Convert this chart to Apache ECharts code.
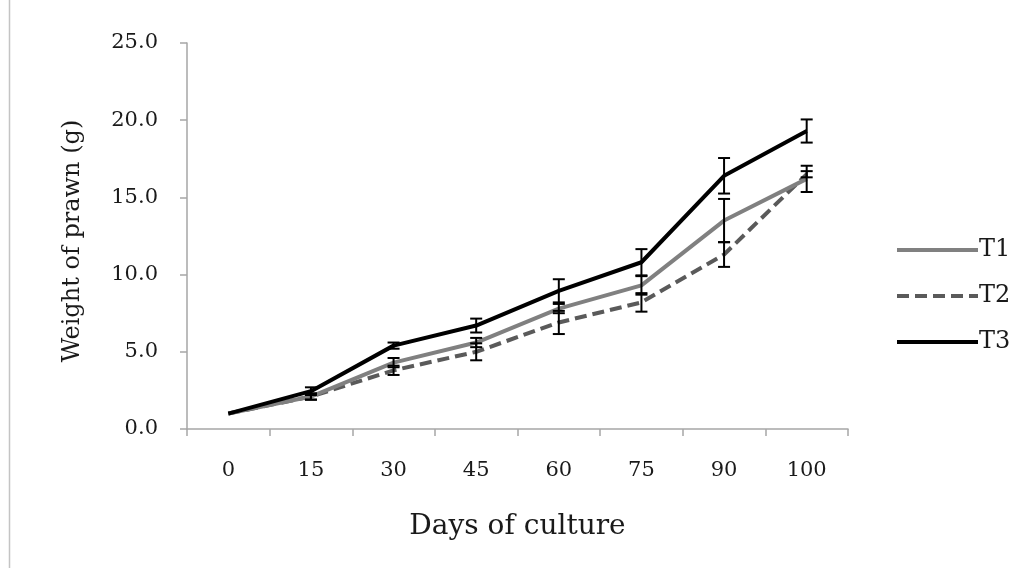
<!DOCTYPE html>
<html>
<head>
<meta charset="utf-8">
<script src="https://cdn.jsdelivr.net/npm/echarts@6/dist/echarts.min.js"></script>
<style>
html,body{margin:0;padding:0;background:#fff;}
#chart{width:1016px;height:568px;}
</style>
</head>
<body>
<div id="chart"></div>
<script>
var categories = ['0', '15', '30', '45', '60', '75', '90', '100'];
var t1 = [1.0, 2.1, 4.3, 5.6, 7.8, 9.3, 13.5, 16.2];
var t2 = [1.0, 2.1, 3.8, 5.0, 6.9, 8.2, 11.3, 16.5];
var t3 = [1.0, 2.45, 5.4, 6.7, 8.95, 10.8, 16.4, 19.3];
var t1Err = [0.0, 0.2, 0.3, 0.3, 0.3, 0.6, 1.4, 0.85];
var t2Err = [0.0, 0.2, 0.3, 0.55, 0.75, 0.6, 0.8, 0.2];
var t3Err = [0.0, 0.25, 0.2, 0.45, 0.75, 0.85, 1.15, 0.75];
var yTicks = [0, 5, 10, 15, 20, 25];

var FONT = 'DejaVu Serif';
var TXT = '#1a1a1a';
var AXIS = '#a6a6a6';

function errData(vals, errs) {
  return vals.map(function (v, i) { return [i, v - errs[i], v + errs[i]]; });
}

function errSeries(name, vals, errs) {
  return {
    name: name,
    type: 'custom',
    z: 10,
    silent: true,
    data: errData(vals, errs),
    renderItem: function (params, api) {
      var lo = api.value(1), hi = api.value(2);
      if (hi - lo <= 0) return null;
      var a = api.coord([api.value(0), hi]);
      var b = api.coord([api.value(0), lo]);
      var w = 6;
      var st = { stroke: '#000', lineWidth: 2 };
      return {
        type: 'group',
        children: [
          { type: 'line', shape: { x1: a[0], y1: a[1], x2: b[0], y2: b[1] }, style: st },
          { type: 'line', shape: { x1: a[0] - w, y1: a[1], x2: a[0] + w, y2: a[1] }, style: st },
          { type: 'line', shape: { x1: b[0] - w, y1: b[1], x2: b[0] + w, y2: b[1] }, style: st }
        ]
      };
    }
  };
}

var chart = echarts.init(document.getElementById('chart'));
chart.setOption({
  backgroundColor: '#fff',
  animation: false,
  graphic: [{
    type: 'line',
    shape: { x1: 9.5, y1: 0, x2: 9.5, y2: 568 },
    style: { stroke: '#c4c4c4', lineWidth: 1.5 }
  }],
  grid: { left: 187, right: 168, top: 43, bottom: 139, containLabel: false },
  legend: {
    data: ['T1', 'T2', 'T3'],
    orient: 'vertical',
    left: 895,
    top: 238,
    padding: 0,
    itemWidth: 81,
    itemHeight: 24,
    itemGap: 22,
    itemStyle: { opacity: 0 },
    lineStyle: { width: 4 },
    textStyle: { fontFamily: FONT, fontSize: 24, color: TXT, padding: [0, 0, 0, -4] }
  },
  xAxis: {
    type: 'category',
    data: categories,
    boundaryGap: true,
    name: 'Days of culture',
    nameLocation: 'middle',
    nameGap: 84,
    nameTextStyle: { fontFamily: FONT, fontSize: 28, color: TXT },
    axisLine: { lineStyle: { color: AXIS, width: 1.5 } },
    axisTick: { show: true, length: 7, lineStyle: { color: AXIS, width: 1.5 } },
    axisLabel: { fontFamily: FONT, fontSize: 21, color: TXT, margin: 31 },
    splitLine: { show: false }
  },
  yAxis: {
    type: 'value',
    min: 0,
    max: 25,
    interval: 5,
    name: 'Weight of prawn (g)',
    nameLocation: 'middle',
    nameGap: 102,
    nameTextStyle: { fontFamily: FONT, fontSize: 24, color: TXT, padding: [0, 10, 0, 0] },
    axisLine: { show: true, lineStyle: { color: AXIS, width: 1.5 } },
    axisTick: { show: true, length: 7, lineStyle: { color: AXIS, width: 1.5 } },
    axisLabel: {
      fontFamily: FONT, fontSize: 21, color: TXT, margin: 29,
      formatter: function (v) { return yTicks.indexOf(v) >= 0 ? v.toFixed(1) : ''; }
    },
    splitLine: { show: false }
  },
  series: [
    {
      name: 'T1', type: 'line', data: t1, symbol: 'none', z: 3,
      lineStyle: { color: '#808080', width: 4 },
      itemStyle: { color: '#808080' }
    },
    {
      name: 'T2', type: 'line', data: t2, symbol: 'none', z: 2,
      lineStyle: { color: '#5a5a5a', width: 4, type: [12, 6] },
      itemStyle: { color: '#5a5a5a' }
    },
    {
      name: 'T3', type: 'line', data: t3, symbol: 'none', z: 4,
      lineStyle: { color: '#000000', width: 4 },
      itemStyle: { color: '#000000' }
    },
    errSeries('errT1', t1, t1Err),
    errSeries('errT2', t2, t2Err),
    errSeries('errT3', t3, t3Err)
  ]
});
</script>
</body>
</html>
